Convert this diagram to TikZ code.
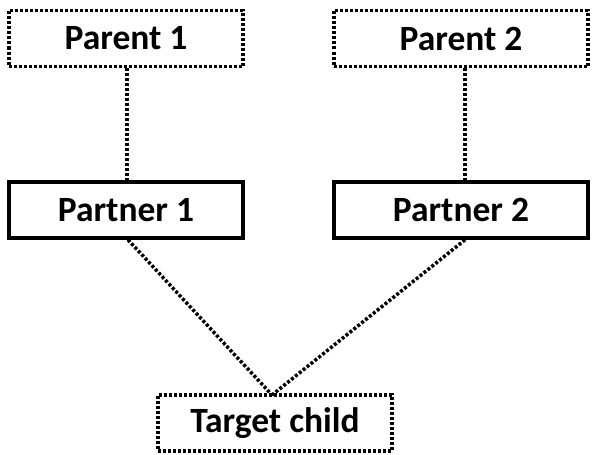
\documentclass[tikz,border=0pt]{standalone}
\usepackage{fontspec}
\setmainfont{Carlito}
\begin{document}
\begin{tikzpicture}[x=1pt,y=-1pt,
  dotbox/.style={draw, line width=3.5pt, dash pattern=on 3pt off 2pt, minimum width=234pt, minimum height=56pt, inner sep=0pt, font=\bfseries\fontsize{35.5}{38}\selectfont},
  solidbox/.style={draw, line width=3.5pt, minimum width=234pt, minimum height=56pt, inner sep=0pt, font=\bfseries\fontsize{35.5}{38}\selectfont},
  link/.style={line width=3.5pt, dash pattern=on 3pt off 2pt}]
\useasboundingbox (0,0) rectangle (592,455);
\node[dotbox] (p1) at (126,38.5) {Parent 1};
\node[dotbox, minimum width=254pt] (p2) at (461,38.5) {Parent 2};
\node[solidbox] (r1) at (126,210) {Partner 1};
\node[solidbox, minimum width=254pt] (r2) at (461,210) {Partner 2};
\node[dotbox] (t) at (275,423) {Target child};
\draw[link] (p1.south -| 127,0) -- (r1.north -| 127,0);
\draw[link] (p2.south -| 465,0) -- (r2.north -| 465,0);
\coordinate (m) at (272,395);
\draw[link] (r1.south -| 128,0) -- (m);
\draw[link] (r2.south -| 465,0) -- (m);
\end{tikzpicture}
\end{document}
